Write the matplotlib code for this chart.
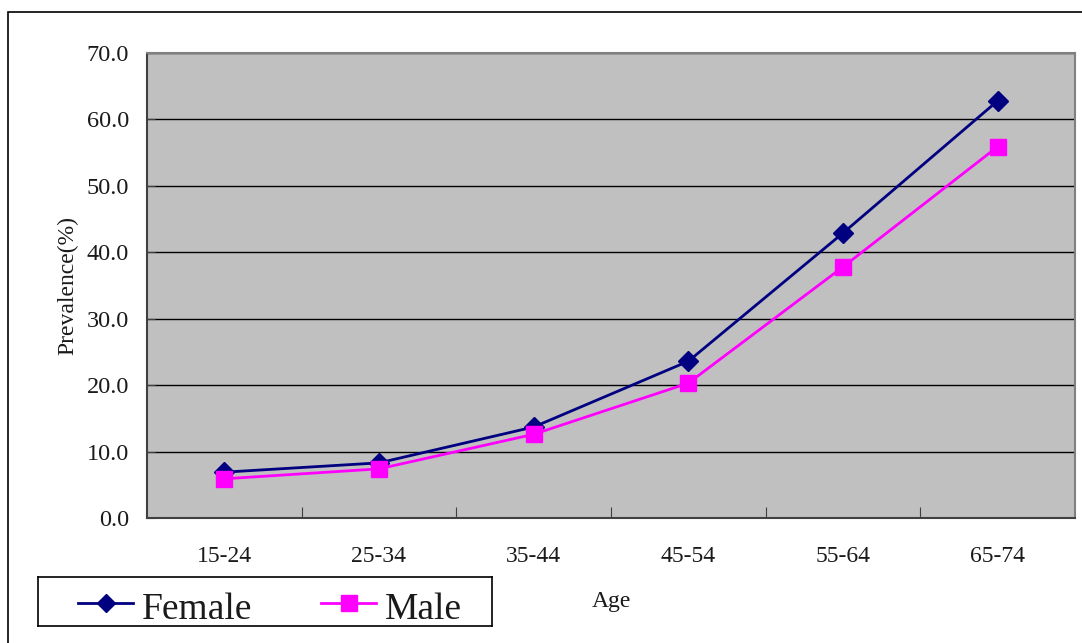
import matplotlib
matplotlib.use("Agg")
import matplotlib.pyplot as plt
from matplotlib.patches import Rectangle
from matplotlib.lines import Line2D

age_groups = ["15-24", "25-34", "35-44", "45-54", "55-64", "65-74"]
female = [6.9, 8.3, 13.7, 23.6, 42.9, 62.8]
male = [5.9, 7.4, 12.6, 20.3, 37.8, 55.9]
yticks = [0, 10, 20, 30, 40, 50, 60, 70]

plt.rcParams['font.family'] = ['Liberation Serif', 'DejaVu Serif']
txt_color = '#1a1a1a'

W, H = 1082, 643
fig = plt.figure(figsize=(W / 100, H / 100), dpi=100)

# outer chart border
fig.patches.append(Rectangle((8 / W, -0.1), 1.2, 1 - 12 / H + 0.1, transform=fig.transFigure,
                             fill=False, edgecolor='black', linewidth=1.2))

ax = fig.add_axes([147 / W, 1 - 518 / H, (1075 - 147) / W, (518 - 53) / H])
ax.set_facecolor('#C0C0C0')

x = list(range(len(age_groups)))
ax.plot(x, female, color='#000080', marker='D', markersize=10, linewidth=2, label='Female')
ax.plot(x, male, color='#FF00FF', marker='s', markersize=11, linewidth=2, label='Male')

ax.set_xlim(-0.5, len(age_groups) - 0.5)
ax.set_ylim(0, 70)
ax.set_yticks(yticks)
ax.set_yticklabels([f"{v:.1f}" for v in yticks], fontsize=17.5, color=txt_color)
ax.yaxis.grid(True, color='black', linewidth=1)
ax.set_axisbelow(True)

ax.set_xticks([i + 0.5 for i in range(len(age_groups) - 1)])
ax.set_xticklabels([])
ax.set_xticks(x, minor=True)
ax.set_xticklabels(age_groups, minor=True, fontsize=17, color=txt_color)
ax.tick_params(axis='x', which='minor', length=0, pad=20)
ax.tick_params(axis='x', which='major', direction='in', length=8, color='#404040')
ax.tick_params(axis='y', direction='in', length=6, color='#404040', pad=13)

for side in ['left', 'bottom']:
    ax.spines[side].set_color('#404040')
    ax.spines[side].set_linewidth(1.5)
for side in ['right', 'top']:
    ax.spines[side].set_color('#808080')
    ax.spines[side].set_linewidth(1.5)

ax.set_ylabel('Prevalence(%)', fontsize=17, labelpad=6, color=txt_color)
fig.text(611 / W, 1 - 602 / H, 'Age', fontsize=17, ha='center', va='center', color=txt_color)

# legend
leg_ax = fig.add_axes([38 / W, 1 - 626 / H, (492 - 38) / W, (626 - 577) / H])
leg_ax.set_xlim(0, 454)
leg_ax.set_ylim(0, 49)
leg_ax.set_xticks([])
leg_ax.set_yticks([])
for s in leg_ax.spines.values():
    s.set_color('black')
    s.set_linewidth(1.2)
l1 = Line2D([40, 67.5, 95], [23, 23, 23], color='#000080', linewidth=2, marker='D',
            markersize=9, markevery=[1])
leg_ax.add_line(l1)
leg_ax.text(104, 16, 'Female', fontsize=27, va='center', ha='left', color=txt_color)
l2 = Line2D([283, 310.5, 338], [23, 23, 23], color='#FF00FF', linewidth=2, marker='s',
            markersize=11, markevery=[1])
leg_ax.add_line(l2)
leg_ax.text(347, 16, 'Male', fontsize=27, va='center', ha='left', color=txt_color)

fig.savefig('out.png', dpi=100)
